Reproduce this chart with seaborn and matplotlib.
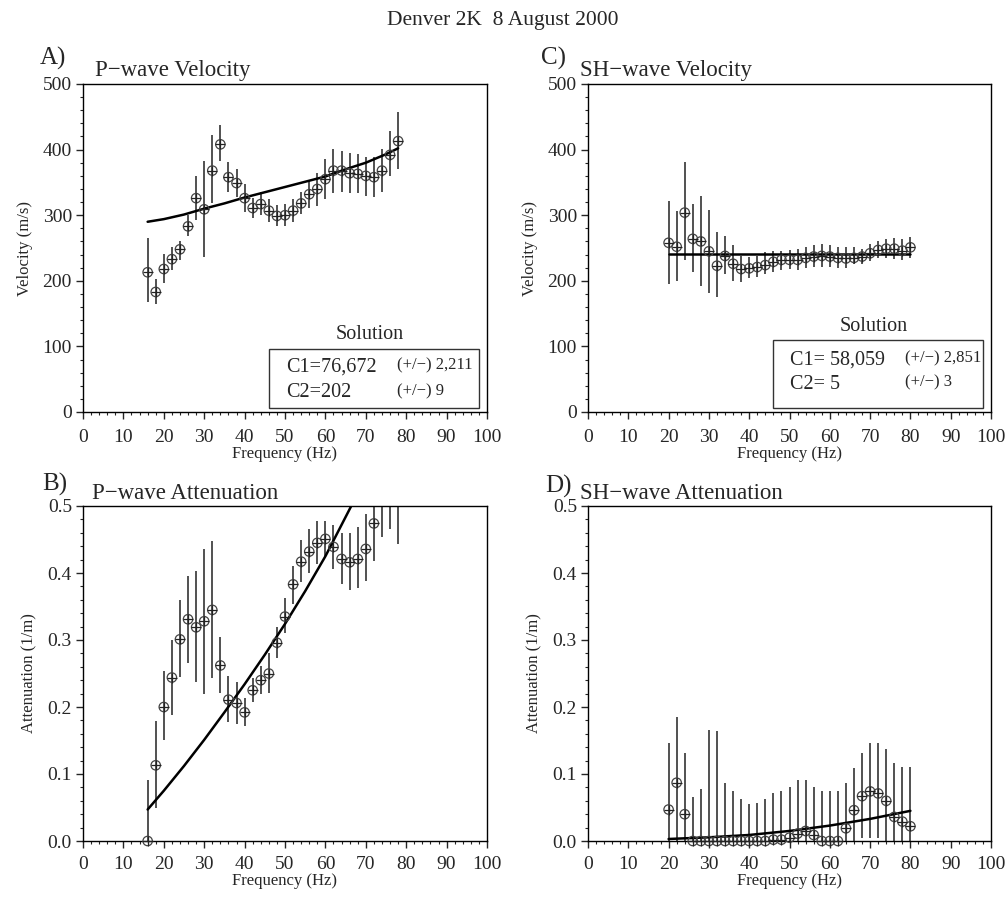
import numpy as np
import seaborn as sns
import matplotlib
matplotlib.use('Agg')
import matplotlib.pyplot as plt
from matplotlib.ticker import MultipleLocator, FormatStrFormatter

# P-wave velocity (panel A)
pv_freq = [16, 18, 20, 22, 24, 26, 28, 30, 32, 34, 36, 38, 40, 42, 44, 46,
           48, 50, 52, 54, 56, 58, 60, 62, 64, 66, 68, 70, 72, 74, 76, 78]
pv = [213, 183, 218, 233, 248, 283, 326, 309, 368, 408, 358, 349, 326, 311, 317, 307,
      299, 300, 307, 318, 332, 340, 355, 368, 368, 364, 363, 360, 358, 368, 392, 413]
pv_lo = [167, 164, 196, 216, 232, 268, 293, 236, 318, 382, 336, 328, 305, 295, 300, 289,
         283, 284, 290, 302, 311, 314, 325, 334, 335, 334, 334, 330, 328, 336, 360, 371]
pv_hi = [265, 203, 241, 251, 261, 300, 360, 383, 422, 438, 381, 370, 348, 326, 335, 325,
         316, 317, 325, 336, 354, 365, 386, 401, 398, 395, 393, 389, 388, 401, 428, 457]
pv_fit_f = [16, 20, 25, 30, 35, 40, 45, 50, 55, 60, 65, 70, 75, 78]
pv_fit = [290, 294, 301, 310, 318, 327, 335, 343, 351, 359, 370, 380, 393, 402]

# SH-wave velocity (panel C)
sv_freq = [20, 22, 24, 26, 28, 30, 32, 34, 36, 38, 40, 42, 44, 46, 48, 50,
           52, 54, 56, 58, 60, 62, 64, 66, 68, 70, 72, 74, 76, 78, 80]
sv = [258, 252, 304, 264, 260, 245, 223, 238, 226, 218, 219, 221, 224, 229, 232, 232,
      232, 235, 237, 238, 237, 235, 234, 235, 237, 242, 247, 249, 249, 246, 251]
sv_lo = [195, 199, 231, 213, 192, 182, 175, 211, 199, 198, 204, 206, 211, 214, 217, 218,
         217, 219, 221, 221, 221, 220, 220, 225, 226, 230, 234, 235, 233, 231, 235]
sv_hi = [321, 306, 381, 317, 330, 308, 275, 269, 254, 238, 237, 238, 244, 245, 246, 247,
         248, 252, 255, 256, 255, 251, 251, 251, 249, 256, 260, 264, 266, 263, 267]
sv_fit_f = [20, 80]
sv_fit = [241, 241]

# P-wave attenuation (panel B)
pa = [0.0, 0.113, 0.200, 0.244, 0.301, 0.331, 0.319, 0.328, 0.345, 0.262, 0.211, 0.206,
      0.192, 0.225, 0.240, 0.250, 0.296, 0.335, 0.383, 0.417, 0.432, 0.445, 0.451, 0.439,
      0.421, 0.416, 0.421, 0.436, 0.474, 0.52, 0.53, 0.51]
pa_lo = [0.0, 0.050, 0.151, 0.188, 0.245, 0.266, 0.237, 0.220, 0.244, 0.221, 0.177, 0.174,
         0.172, 0.207, 0.220, 0.221, 0.273, 0.311, 0.353, 0.386, 0.400, 0.414, 0.424, 0.406,
         0.383, 0.375, 0.377, 0.388, 0.418, 0.454, 0.466, 0.444]
pa_hi = [0.091, 0.179, 0.254, 0.300, 0.359, 0.395, 0.403, 0.436, 0.448, 0.304, 0.247, 0.237,
         0.214, 0.244, 0.261, 0.280, 0.320, 0.362, 0.411, 0.450, 0.465, 0.477, 0.477, 0.472,
         0.460, 0.459, 0.468, 0.488, 0.53, 0.59, 0.60, 0.58]
pa_fit_f = [16, 20, 25, 30, 35, 40, 45, 50, 55, 60, 66.4]
pa_fit = [0.047, 0.075, 0.112, 0.151, 0.192, 0.234, 0.278, 0.324, 0.373, 0.425, 0.5]

# SH-wave attenuation (panel D)
sa = [0.047, 0.087, 0.040, 0.0, 0.0, 0.0, 0.0, 0.0, 0.0, 0.0, 0.0, 0.0, 0.0, 0.002, 0.002, 0.005,
      0.011, 0.015, 0.009, 0.0, 0.0, 0.0, 0.019, 0.046, 0.067, 0.074, 0.071, 0.060, 0.036, 0.029, 0.022]
sa_lo = [0.0, 0.0, 0.0, 0.0, 0.0, 0.0, 0.0, 0.0, 0.0, 0.0, 0.0, 0.0, 0.0, 0.0, 0.0, 0.0,
         0.0, 0.0, 0.0, 0.0, 0.0, 0.0, 0.0, 0.0, 0.004, 0.004, 0.004, 0.0, 0.0, 0.0, 0.0]
sa_hi = [0.147, 0.185, 0.132, 0.065, 0.077, 0.166, 0.164, 0.086, 0.074, 0.063, 0.055, 0.056, 0.063,
         0.071, 0.075, 0.081, 0.091, 0.091, 0.081, 0.074, 0.074, 0.075, 0.086, 0.109, 0.132, 0.147,
         0.147, 0.137, 0.117, 0.111, 0.111]
sa_fit_f = [20, 30, 40, 50, 60, 70, 80]
sa_fit = [0.003, 0.0055, 0.009, 0.015, 0.023, 0.033, 0.045]

sns.set_style('ticks')
plt.rcParams['font.family'] = ['Liberation Serif', 'DejaVu Serif']

fig = plt.figure(figsize=(10.06, 9.02), dpi=100)
W, H = 1006, 902


def make_ax(l, t, r, b):
    return fig.add_axes([l / W, 1 - b / H, (r - l) / W, (b - t) / H])


def panel(ax, freq, val, lo, hi, fit_f, fit_y, ytop, ystep, ylabel, fmt, xpad):
    ax.vlines(freq, lo, hi, color='#222222', lw=1.1, zorder=2)
    sns.lineplot(x=fit_f, y=fit_y, ax=ax, color='black', lw=1.8, sort=False, zorder=3)
    keep = [i for i, v in enumerate(val) if v <= ytop]
    fx = [freq[i] for i in keep]
    fy = [val[i] for i in keep]
    sns.scatterplot(x=fx, y=fy, ax=ax, marker='o', s=46, facecolor='none',
                    edgecolor='#444444', linewidth=0.9, zorder=4, clip_on=False)
    sns.scatterplot(x=fx, y=fy, ax=ax, marker='+', s=46, color='#222222',
                    linewidth=0.9, zorder=4, clip_on=False)
    ax.set_xlim(0, 100)
    ax.set_ylim(0, ytop)
    ax.xaxis.set_major_locator(MultipleLocator(10))
    ax.xaxis.set_minor_locator(MultipleLocator(2))
    ax.yaxis.set_major_locator(MultipleLocator(ystep))
    ax.yaxis.set_minor_locator(MultipleLocator(ystep / 5))
    ax.yaxis.set_major_formatter(FormatStrFormatter(fmt))
    ax.tick_params(which='major', direction='out', length=5, width=1, labelsize=14, pad=3)
    ax.tick_params(axis='x', which='major', pad=xpad)
    ax.tick_params(which='minor', direction='out', length=2.5, width=0.8)
    ax.tick_params(top=False, right=False)
    for s in ax.spines.values():
        s.set_linewidth(1.0)
        s.set_color('black')
    ax.set_xlabel('Frequency (Hz)', fontsize=12, labelpad=0)
    ax.set_ylabel(ylabel, fontsize=12, labelpad=7)


axA = make_ax(83, 84, 487, 412)
axC = make_ax(588, 84, 991, 412)
axB = make_ax(83, 506, 487, 841)
axD = make_ax(588, 506, 991, 841)

panel(axA, pv_freq, pv, pv_lo, pv_hi, pv_fit_f, pv_fit, 500, 100, 'Velocity (m/s)', '%d', 7)
panel(axC, sv_freq, sv, sv_lo, sv_hi, sv_fit_f, sv_fit, 500, 100, 'Velocity (m/s)', '%d', 7)
panel(axB, pv_freq, pa, pa_lo, pa_hi, pa_fit_f, pa_fit, 0.5, 0.1, 'Attenuation (1/m)', '%.1f', 5.5)
panel(axD, sv_freq, sa, sa_lo, sa_hi, sa_fit_f, sa_fit, 0.5, 0.1, 'Attenuation (1/m)', '%.1f', 5.5)

# solution boxes
for ax, box, sol, c1, e1, c2, e2 in [
        (axA, (0.460, 0.012, 0.520, 0.180), (0.710, 0.235, 0.502, 0.137, 0.777, 0.058),
         'C1=76,672', '(+/\u2212) 2,211', 'C2=202', '(+/\u2212) 9'),
        (axC, (0.459, 0.012, 0.521, 0.207), (0.710, 0.262, 0.501, 0.159, 0.787, 0.085),
         'C1= 58,059', '(+/\u2212) 2,851', 'C2= 5', '(+/\u2212) 3')]:
    ax.add_patch(plt.Rectangle((box[0], box[1]), box[2], box[3], transform=ax.transAxes,
                               fill=False, ec='#333333', lw=1.0, zorder=5))
    ax.text(sol[0], sol[1], 'Solution', transform=ax.transAxes, ha='center', va='center', fontsize=14.5)
    ax.text(sol[2], sol[3], c1, transform=ax.transAxes, ha='left', va='center', fontsize=14.5)
    ax.text(sol[4], sol[3] + 0.005, e1, transform=ax.transAxes, ha='left', va='center', fontsize=12)
    ax.text(sol[2], sol[5], c2, transform=ax.transAxes, ha='left', va='center', fontsize=14.5)
    ax.text(sol[4], sol[5] + 0.005, e2, transform=ax.transAxes, ha='left', va='center', fontsize=12)

# panel letters and titles
for lx, ly, letter, tx, ty, title in [
        (40, 58, 'A)', 95, 76, 'P\u2212wave Velocity'),
        (541, 58, 'C)', 580, 76, 'SH\u2212wave Velocity'),
        (42, 484, 'B)', 92, 499, 'P\u2212wave Attenuation'),
        (545, 486, 'D)', 580, 499, 'SH\u2212wave Attenuation')]:
    fig.text(lx / W, 1 - ly / H, letter, fontsize=18, ha='left', va='center')
    fig.text(tx / W, 1 - ty / H, title, fontsize=16.5, ha='left', va='baseline')

fig.text(503 / W, 1 - 20 / H, 'Denver 2K  8 August 2000', fontsize=15.5, ha='center', va='center')

plt.savefig('out.png', dpi=100)
